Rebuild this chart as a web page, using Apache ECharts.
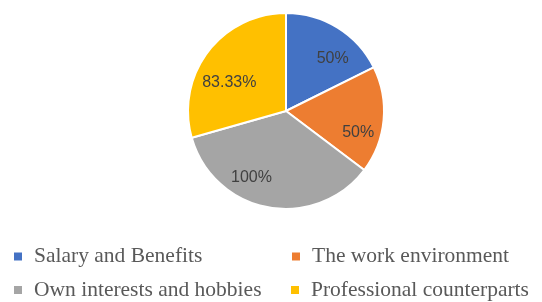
<!DOCTYPE html>
<html><head><meta charset="utf-8">
<script src="https://cdn.jsdelivr.net/npm/echarts@6/dist/echarts.min.js"></script>
<style>html,body{margin:0;padding:0;background:#fff}#c{width:542px;height:302px}</style>
</head><body><div id="c"></div>
<script>
const categories = ["Salary and Benefits","The work environment","Own interests and hobbies","Professional counterparts"];
const values = [50, 50, 100, 83.33];
const labels = ["50%","50%","100%","83.33%"];
const colors = ["#4472C4","#ED7D31","#A5A5A5","#FFC000"];
const labelShift = [[8,10],[-1,15],[-21,-6],[2,16]];

const data = categories.map((n,i)=>({name:n, value:values[i], itemStyle:{color:colors[i]}}));
const center = [286, 111];
const chart = echarts.init(document.getElementById('c'));
const legendPos = [[12,256.5],[290,256.5],[12,290],[289,290]];
chart.setOption({
  animation:false,
  legend: categories.map((n,i)=>({
    data:[n], left:legendPos[i][0], top:legendPos[i][1]-11, padding:0, itemWidth:10, itemHeight:10, itemGap:0,
    icon:'rect', textStyle:{fontFamily:'Liberation Serif', fontSize:21.5, lineHeight:22, color:'#595959', padding:[0,0,0,6]}, selectedMode:false
  })),
  series:[
    {type:'pie', center:center, radius:[0,98], startAngle:90, clockwise:true, silent:true,
     itemStyle:{borderColor:'#fff', borderWidth:2}, label:{show:false}, labelLine:{show:false}, data:data},
    {type:'pie', center:center, radius:[43,98], startAngle:90, clockwise:true, silent:true,
     itemStyle:{color:'transparent', borderWidth:0}, labelLine:{show:false},
     label:{show:true, position:'inside', fontFamily:'Liberation Sans', fontSize:16, color:'#404040',
       formatter:p=>labels[p.dataIndex]},
     labelLayout:p=>({dx:labelShift[p.dataIndex][0], dy:labelShift[p.dataIndex][1]}),
     data:categories.map((n,i)=>({name:n, value:values[i], itemStyle:{color:'transparent'}}))}
  ]
});
</script></body></html>
